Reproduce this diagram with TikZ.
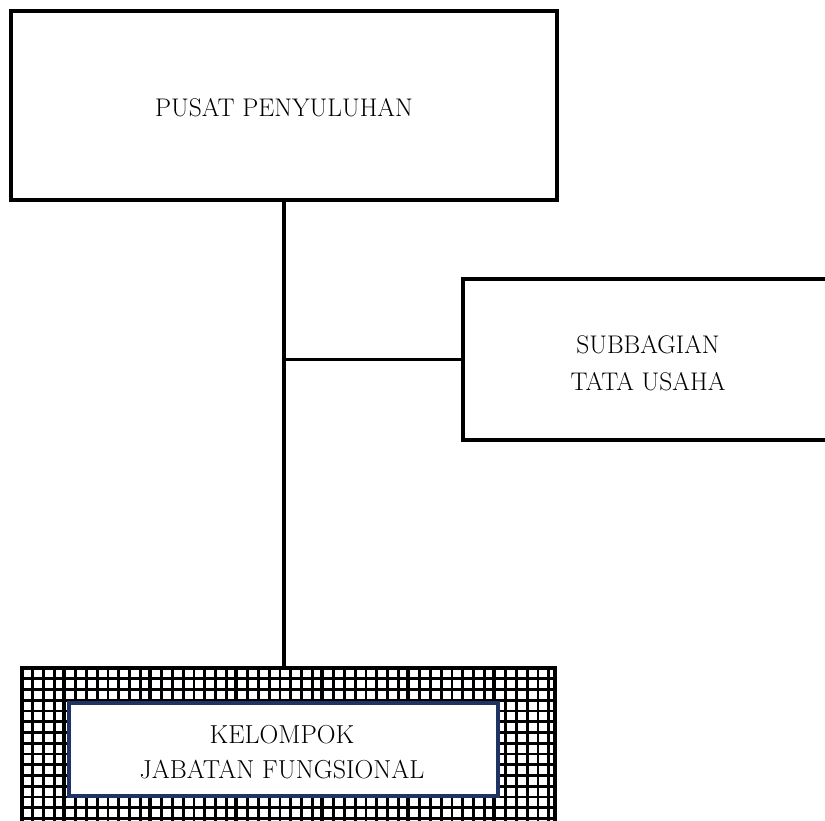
\documentclass[tikz,border=0pt]{standalone}
\begin{document}
\begin{tikzpicture}[x=1pt,y=-1pt,
  orgbox/.style={draw=black,line width=4pt,fill=white,align=center,inner sep=0pt},
  innerbox/.style={draw={rgb,255:red,31;green,52;blue,100},line width=4pt,fill=white,align=center,inner sep=0pt},
  lbl/.style={align=center,inner sep=0pt,font=\fontsize{25.5}{37}\selectfont},
  conn/.style={line width=3.6pt,line cap=butt},
  gridln/.style={line width=2.6pt,black},
  gridthick/.style={line width=3.8pt,black}]
\useasboundingbox (0,0) rectangle (825,820);
\clip (0,0) rectangle (825,820);
\fill[white] (0,0) rectangle (825,820);
% boxes
\node[orgbox,minimum width=546pt,minimum height=189pt] (top) at (284,105.5) {};
\node[lbl] (toptext) at (284,108) {PUSAT PENYULUHAN};
\node[orgbox,minimum width=370pt,minimum height=161pt] (sub) at (648,359.5) {};
\node[lbl] (subtext) at (648,363) {SUBBAGIAN\\TATA USAHA};
\node[inner sep=0pt,minimum width=533pt,minimum height=162pt] (grid) at (288.5,749) {};
% grid pattern
\begin{scope}
  \clip (22,668) rectangle (555,830);
  \foreach \i in {0,...,50} {
    \draw[gridln] ({22+10.75*\i},668) -- ({22+10.75*\i},830);
    \draw[gridln] (22,{668+10.75*\i}) -- (555,{668+10.75*\i});
  }
  \foreach \i in {0,...,5} {
    \draw[gridthick] ({64+86*\i},668) -- ({64+86*\i},830);
  }
\end{scope}
\draw[line width=3.5pt] (grid.south west) -- (grid.north west) -- (grid.north east) -- (grid.south east);
\node[innerbox,minimum width=429pt,minimum height=93pt] (kel) at (283.5,749.5) {};
\node[lbl,font=\fontsize{26}{35}\selectfont] (keltext) at (282,752.5) {KELOMPOK\\JABATAN FUNGSIONAL};
% connectors
\coordinate (junc) at (top.south |- sub.west);
\draw[conn] (top.south) -- (top.south |- grid.north);
\draw[conn] (junc) -- (sub.west);
\end{tikzpicture}
\end{document}
